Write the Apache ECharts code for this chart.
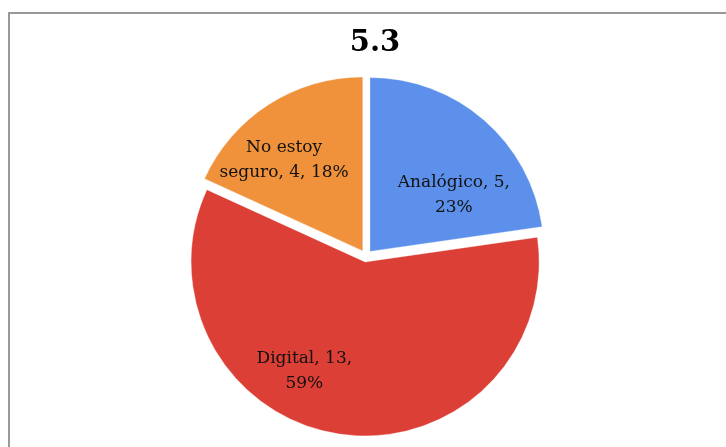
<!DOCTYPE html>
<html>
<head>
<meta charset="utf-8">
<script src="https://cdn.jsdelivr.net/npm/echarts@6/dist/echarts.min.js"></script>
<style>
  html, body { margin: 0; padding: 0; background: #fff; }
  #chart { width: 726px; height: 447px; }
</style>
</head>
<body>
<div id="chart"></div>
<script>
// Responses to question 5.3
const categories = ['Analógico', 'Digital', 'No estoy seguro'];
const counts = [5, 13, 4];
const percents = [23, 59, 18];
const colors = ['#5C90EB', '#DB3F35', '#F0913B'];
// label nudges (px) from the default inside position
const labelShift = [[25, 12], [-48, 20], [-30, -15]];

const chart = echarts.init(document.getElementById('chart'));

const data = categories.map((name, i) => ({
  name: name,
  value: counts[i],
  selected: true,
  itemStyle: { color: colors[i] }
}));

chart.setOption({
  animation: false,
  title: {
    text: '5.3',
    left: 375,
    top: 24,
    textAlign: 'center',
    textStyle: {
      fontFamily: 'DejaVu Serif',
      fontWeight: 'bold',
      fontSize: 29,
      color: '#000'
    }
  },
  graphic: [{
    type: 'rect',
    shape: { x: 9, y: 13, width: 760, height: 460 },
    style: { fill: 'none', stroke: '#999', lineWidth: 2 },
    silent: true
  }],
  series: [{
    type: 'pie',
    center: [366, 256],
    radius: 174,
    startAngle: 90,
    clockwise: true,
    selectedMode: 'multiple',
    selectedOffset: 6,
    data: data,
    itemStyle: {
      borderColor: 'rgba(255,255,255,0.35)',
      borderWidth: 1
    },
    emphasis: { disabled: true },
    label: {
      show: true,
      position: 'inside',
      fontFamily: 'DejaVu Serif',
      fontSize: 17,
      lineHeight: 25,
      color: '#111',
      formatter: function (p) {
        const i = p.dataIndex;
        if (i === 2) return 'No estoy\nseguro, ' + counts[i] + ', ' + percents[i] + '%';
        return categories[i] + ', ' + counts[i] + ',\n' + percents[i] + '%';
      }
    },
    labelLayout: function (params) {
      const s = labelShift[params.dataIndex];
      return { dx: s[0], dy: s[1] };
    }
  }]
});
// center the title over the pie
chart.setOption({ title: { left: 370 } });
</script>
</body>
</html>
